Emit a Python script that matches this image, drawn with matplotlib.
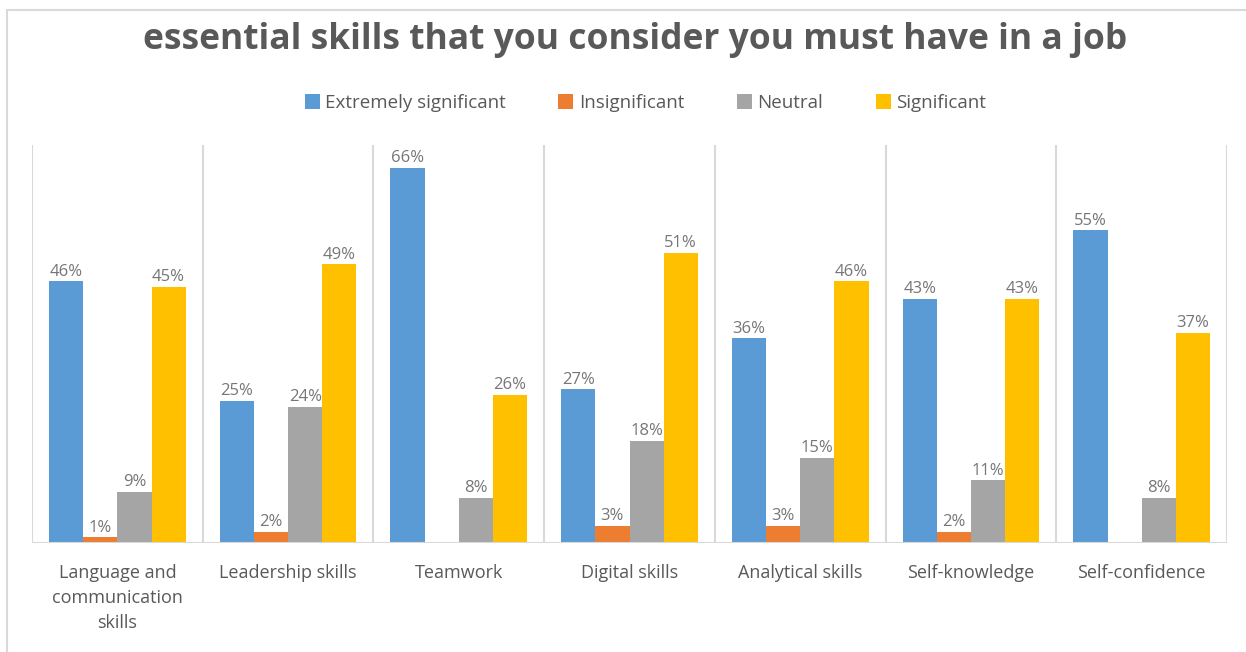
import numpy as np
import matplotlib
matplotlib.use("Agg")
from matplotlib import pyplot as plt
from matplotlib.patches import Rectangle

plt.rcParams['font.family'] = ['Open Sans', 'DejaVu Sans']

categories = ['Language and\ncommunication\nskills', 'Leadership skills', 'Teamwork',
              'Digital skills', 'Analytical skills', 'Self-knowledge', 'Self-confidence']
series_names = ['Extremely significant', 'Insignificant', 'Neutral', 'Significant']
extremely = [46, 25, 66, 27, 36, 43, 55]
insignificant = [1, 2, 0, 3, 3, 2, 0]
neutral = [9, 24, 8, 18, 15, 11, 8]
significant = [45, 49, 26, 51, 46, 43, 37]
colors = ['#5B9BD5', '#ED7D31', '#A5A5A5', '#FFC000']

W, H = 1246, 652
fig = plt.figure(figsize=(W / 100, H / 100), dpi=100)
ax = fig.add_axes([32 / W, 1 - 543 / H, (1227 - 32) / W, (543 - 145) / H])

# outer chart frame (cut off on right and bottom like the screenshot)
fig.patches.append(Rectangle((7 / W, -0.1), 2, 1 - 10 / H + 0.1, transform=fig.transFigure,
                             fill=False, edgecolor='#d9d9d9', linewidth=1.5))

x = np.arange(len(categories))
width = 0.2
data = [extremely, insignificant, neutral, significant]
for i, (vals, name, c) in enumerate(zip(data, series_names, colors)):
    pos = x + (i - 1.5) * width
    ax.bar(pos, vals, width, color=c, label=name, zorder=2)
    for p, v in zip(pos, vals):
        if v > 0:
            ax.text(p, v + 0.3, f'{v}%', ha='center', va='bottom', fontsize=12, color='#767676')

ax.set_xlim(-0.5, len(categories) - 0.5)
ax.set_ylim(0, 70)
for s in np.arange(-0.5, len(categories), 1):
    ax.axvline(s, color='#d9d9d9', linewidth=1.5, zorder=1)
ax.axhline(0, color='#d9d9d9', linewidth=1.5, zorder=3)

for sp in ax.spines.values():
    sp.set_visible(False)
ax.set_yticks([])
ax.set_xticks(x)
ax.set_xticklabels(categories, fontsize=13, color='#595959', linespacing=1.5, va='top')
ax.tick_params(axis='x', length=0, pad=15)

fig.text(0.51, 1 - 40 / H, 'essential skills that you consider you must have in a job',
         ha='center', va='center', fontsize=25.5, fontweight='bold', color='#595959')
fig.legend(loc='center', bbox_to_anchor=(0.518, 1 - 103 / H), ncol=4, frameon=False,
           fontsize=13.5, labelcolor='#595959', handlelength=0.8, handleheight=0.8,
           handletextpad=0.3, columnspacing=2.8)

fig.savefig('out.png', dpi=100)
